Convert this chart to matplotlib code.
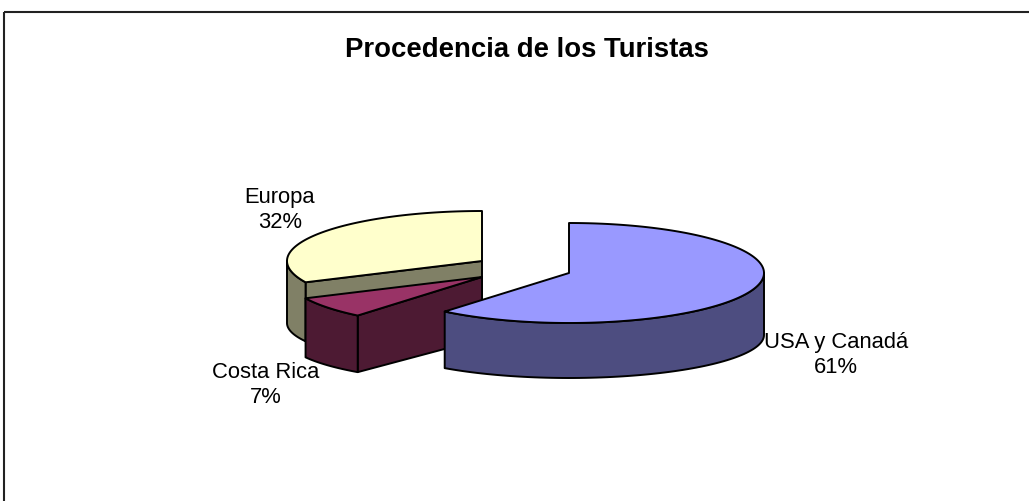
import numpy as np
import matplotlib
matplotlib.use('Agg')
import matplotlib.pyplot as plt
from matplotlib.patches import Polygon, Rectangle

# data (Excel order: clockwise from 12 o'clock)
labels = ['USA y Canadá', 'Costa Rica', 'Europa']
values = [61, 7, 32]
top_colors = ['#9999FF', '#993366', '#FFFFCC']
side_colors = ['#4D4D80', '#4D1A33', '#808066']

# layout of the fake 3d pie, in pixels
A = 195        # half width of ellipse
B_TOP = 50     # half height of top ellipse
B_BOT = 43     # half height of bottom ellipse
DEPTH = 62
centers = [(569, 273), (482, 277), (482, 261)]
label_pos = [(836, 355), (266, 385), (280, 210)]
draw_order = [2, 1, 0]   # back to front

plt.rcParams['font.family'] = ['Liberation Sans', 'DejaVu Sans']

fig = plt.figure(figsize=(10.29, 5.01), dpi=100)
ax = fig.add_axes([0, 0, 1, 1])
ax.set_xlim(0, 1029)
ax.set_ylim(501, 0)
ax.axis('off')


def top_pt(c, t):
    return (c[0] + A * np.cos(t), c[1] - B_TOP * np.sin(t))


def bot_pt(c, t):
    return (c[0] + A * np.cos(t), c[1] + DEPTH - B_BOT * np.sin(t))


def add_poly(pts, color):
    ax.add_patch(Polygon(pts, closed=True, fc=color, ec='black', lw=1.4,
                         joinstyle='round'))


total = float(sum(values))
cum = np.concatenate([[0], np.cumsum(values)]) / total
t_start = np.radians(90 - 360 * cum[:-1])
t_end = np.radians(90 - 360 * cum[1:])

for i in draw_order:
    c = centers[i]
    ts, te = t_start[i], t_end[i]

    # radial cut faces that look towards the viewer
    for t, sign in ((ts, 1), (te, -1)):
        if sign * np.cos(t) < -1e-6:
            add_poly([c, top_pt(c, t), bot_pt(c, t), (c[0], c[1] + DEPTH)],
                     side_colors[i])

    # outer curved wall, front half only
    for k in range(-2, 3):
        lo = max(te, np.radians(-180 + 360 * k))
        hi = min(ts, np.radians(360 * k))
        if hi - lo > 1e-6:
            tt = np.linspace(lo, hi, 80)
            pts = [top_pt(c, t) for t in tt] + [bot_pt(c, t) for t in tt[::-1]]
            add_poly(pts, side_colors[i])

    # top face
    tt = np.linspace(ts, te, 200)
    add_poly([c] + [top_pt(c, t) for t in tt], top_colors[i])

    ax.text(label_pos[i][0], label_pos[i][1], f'{labels[i]}\n{values[i]}%',
            ha='center', va='center', multialignment='center',
            fontsize=15.8, linespacing=1.25, color='black')

ax.text(527, 50, 'Procedencia de los Turistas', ha='center', va='center',
        fontsize=19.8, fontweight='bold', color='black')

# chart area border (cut off at right and bottom)
ax.add_patch(Rectangle((4, 12), 1200, 700, fill=False, ec='#222222', lw=1.5))

fig.savefig('out.png', dpi=100)
